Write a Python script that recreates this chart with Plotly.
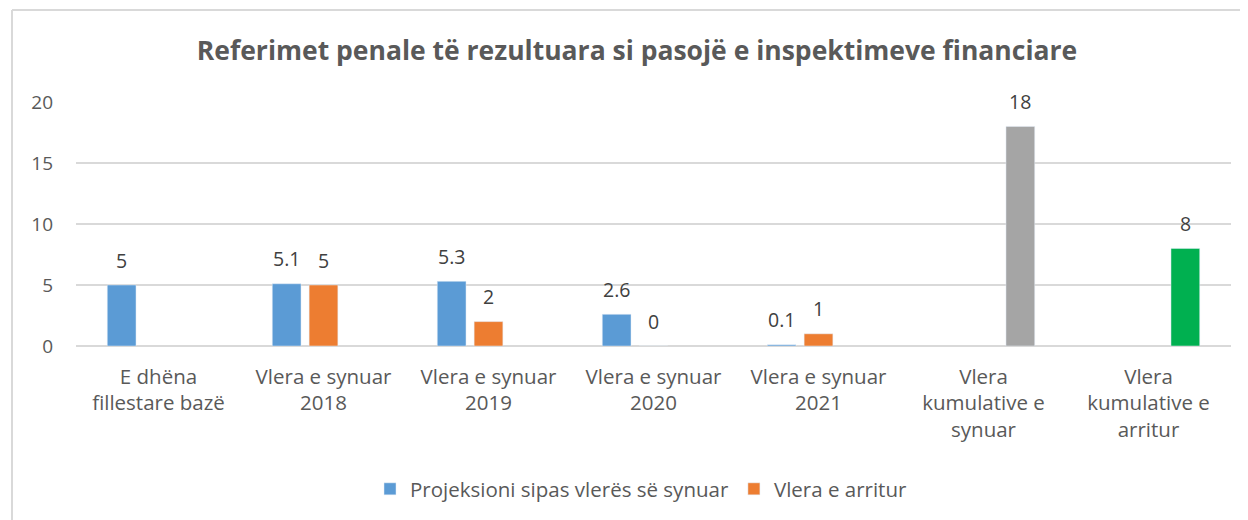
import plotly.graph_objects as go

categories = [
    "E dhëna<br>fillestare bazë",
    "Vlera e synuar<br>2018",
    "Vlera e synuar<br>2019",
    "Vlera e synuar<br>2020",
    "Vlera e synuar<br>2021",
    "Vlera<br>kumulative e<br>synuar",
    "Vlera<br>kumulative e<br>arritur",
]
projeksioni = [5, 5.1, 5.3, 2.6, 0.1, None, None]
arritur = [None, 5, 2, 0, 1, None, None]
kumulative = [None, None, None, None, None, 18, 8]
kumulative_colors = ["#A5A5A5"] * 5 + ["#A5A5A5", "#00B050"]
y_ticks = [0, 5, 10, 15, 20]

# page has an 8px body margin; work in page pixels and convert
OFF = 8
PAGE_W, PAGE_H = 1248, 520
W, H = PAGE_W - OFF, PAGE_H - OFF
plot_left, plot_right, plot_top, plot_bottom = 76, 1231, 102, 346
L = plot_left - OFF
R = PAGE_W - plot_right
T = plot_top - OFF
B = PAGE_H - plot_bottom
plot_w = W - L - R
plot_h = H - T - B
BARGAP = 0.33
GROUPGAP = 0.22
FONT = "Open Sans"
TXT = "#595959"

fig = go.Figure()
fig.add_trace(go.Bar(x=categories, y=projeksioni, name="Projeksioni sipas vlerës së synuar",
                     marker_color="#5B9BD5"))
fig.add_trace(go.Bar(x=categories, y=arritur, name="Vlera e arritur",
                     marker_color="#ED7D31"))
fig.add_trace(go.Bar(x=categories, y=kumulative, name="Kumulative",
                     marker_color=kumulative_colors, showlegend=False))

# data labels
cat_w = plot_w / len(categories)
slot = cat_w * (1 - BARGAP) / 3
annotations = []
for si, series in enumerate([projeksioni, arritur, kumulative]):
    for ci, v in enumerate(series):
        if v is None:
            continue
        annotations.append(dict(
            x=categories[ci], y=v, xref="x", yref="y",
            text=f"{v:g}", showarrow=False,
            xshift=(si - 1) * slot, yshift=25, yanchor="middle",
            font=dict(family=FONT, size=19.5, color="#404040"),
        ))

def px_x(p):
    return (p - plot_left) / plot_w

def px_y(p):
    return (plot_bottom - p) / plot_h

shapes = [
    dict(type="line", xref="paper", yref="paper", x0=px_x(12), x1=px_x(12),
         y0=px_y(10), y1=px_y(PAGE_H + 5), line=dict(color="#D9D9D9", width=2)),
    dict(type="line", xref="paper", yref="paper", x0=px_x(12), x1=px_x(PAGE_W + 5),
         y0=px_y(10), y1=px_y(10), line=dict(color="#D9D9D9", width=2)),
]

fig.update_layout(
    width=W, height=H,
    margin=dict(l=L, r=R, t=T, b=B, pad=0),
    paper_bgcolor="white", plot_bgcolor="white",
    barmode="group", bargap=BARGAP, bargroupgap=GROUPGAP,
    title=dict(text="<b>Referimet penale të rezultuara si pasojë e inspektimeve financiare</b>",
               x=(637 - OFF) / W, xanchor="center", xref="container",
               y=1 - (51 - OFF) / H, yanchor="middle", yref="container",
               font=dict(family=FONT, size=26.5, color=TXT)),
    font=dict(family=FONT, color=TXT),
    xaxis=dict(showline=False, showgrid=False, zeroline=False, ticks="", automargin=False,
               tickfont=dict(family=FONT, size=20.5, color=TXT), ticklabelstandoff=16),
    yaxis=dict(range=[0, 20], tickvals=y_ticks, showgrid=True, gridcolor="#D9D9D9",
               gridwidth=1.5, zeroline=True, zerolinecolor="#D9D9D9", zerolinewidth=2,
               showline=False, ticks="", ticklabelstandoff=22, automargin=False,
               tickfont=dict(family=FONT, size=19, color=TXT)),
    legend=dict(orientation="h", xref="container", yref="container",
                x=(641 - OFF) / W, xanchor="center", y=1 - (489 - OFF) / H, yanchor="middle",
                font=dict(family=FONT, size=20.5, color=TXT), itemwidth=30,
                traceorder="normal"),
    annotations=annotations,
    shapes=shapes,
)

fig.write_html("out.html")
